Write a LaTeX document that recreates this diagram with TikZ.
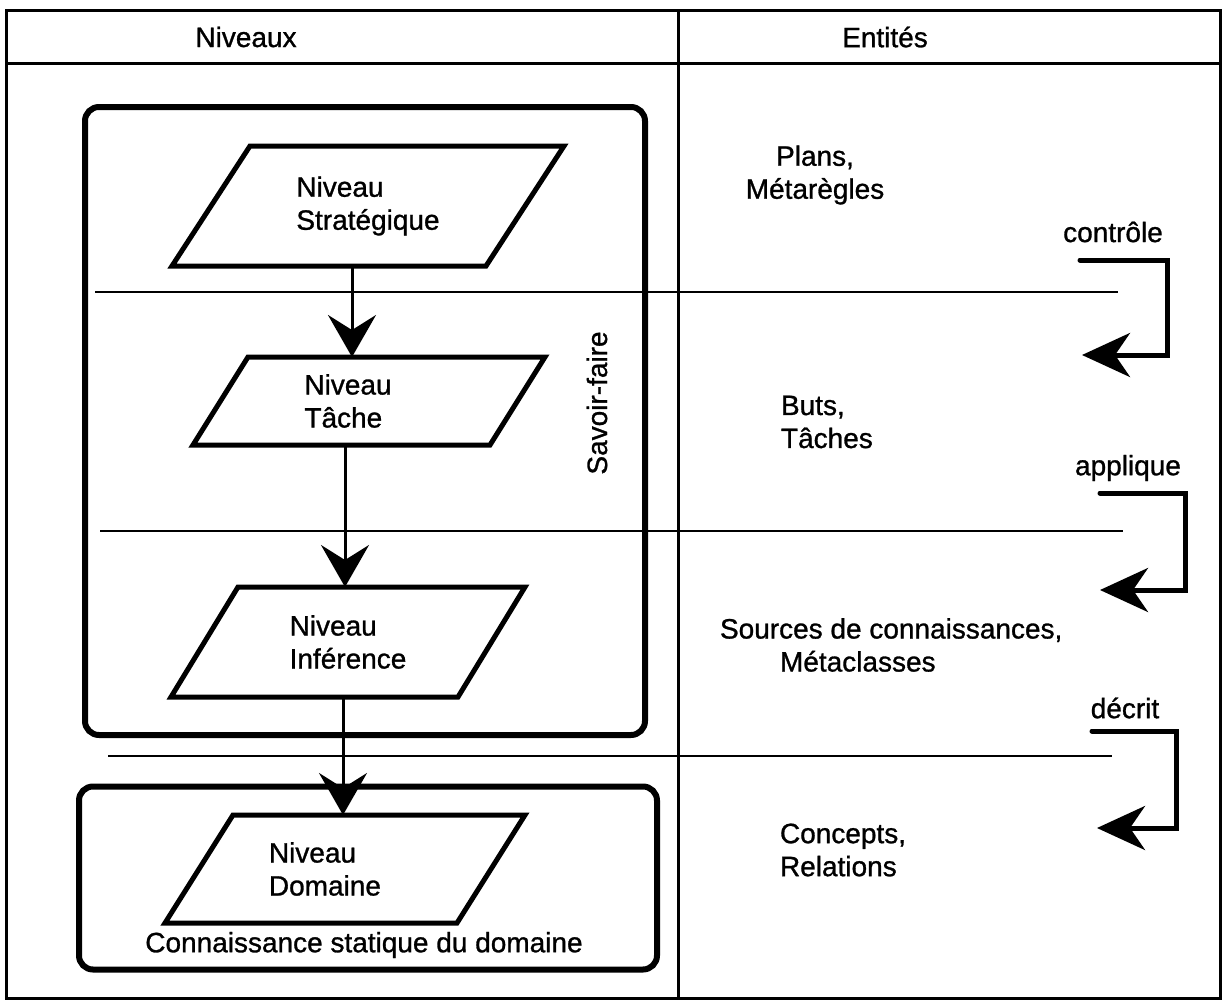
\documentclass[tikz,border=0pt]{standalone}
\usepackage{fontspec}
\setmainfont{Liberation Sans}[FakeBold=1]
\usetikzlibrary{arrows.meta}

\begin{document}
\begin{tikzpicture}[x=1pt, y=-1pt,
  every node/.style={font=\fontsize{28}{33}\selectfont, inner sep=0pt, outer sep=0pt},
  niveau/.style={align=left},
  para/.style={line width=5pt, line join=miter},
  bloc/.style={draw, rounded corners=14pt, line width=6pt},
  fleche/.style={line width=3pt, -{Stealth[length=42pt,width=48pt,inset=15pt]}},
  renvoi/.style={line width=5pt, line cap=round, -{Stealth[length=48pt,width=44pt,inset=15pt]}},
  trait/.style={line width=1.6pt},
  cadre/.style={line width=3pt}]
            \useasboundingbox (0,0) rectangle (1224,1001);
            % Cadre
            \draw[cadre] (6,10) rectangle (1220,998);
            \draw[cadre] (6,63) -- (1220,63);
            \draw[cadre] (678,10) -- (678,998);
            \node (N) at (246,37) {Niveaux};
            \node (E) at (885,37) {Entités};
            % Separations
            \draw[trait] (95,292) -- (1118,292);
            \draw[trait] (100,531) -- (1123,531);
            \draw[trait] (108,756) -- (1112,756);
            % Nodes
            \node[bloc, minimum width=560, minimum height=628] (SF) at (365,421) {};
            \node[bloc, minimum width=578, minimum height=183] (CS) at (368,878) {};
            \node[rotate=90] (SFt) at (597,403) {Savoir-faire};
            \node (CSt) at (364,945) {Connaissance statique du domaine};
            \node[niveau, minimum width=392, minimum height=120] (A) at (368,206) {Niveau\\Stratégique};
            \node[niveau, minimum width=352, minimum height=88] (B) at (369,401) {Niveau\hspace*{42pt}\\Tâche};
            \node[niveau, minimum width=354, minimum height=110] (C) at (348,642) {Niveau\\Inférence};
            \node[niveau, minimum width=360, minimum height=108] (D) at (345,869) {Niveau\hspace*{65pt}\\Domaine};
            \draw[para] ([xshift=78pt]A.north west) -- (A.north east) -- ([xshift=-78pt]A.south east) -- (A.south west) -- cycle;
            \draw[para] ([xshift=55pt]B.north west) -- (B.north east) -- ([xshift=-55pt]B.south east) -- (B.south west) -- cycle;
            \draw[para] ([xshift=67pt]C.north west) -- (C.north east) -- ([xshift=-67pt]C.south east) -- (C.south west) -- cycle;
            \draw[para] ([xshift=68pt]D.north west) -- (D.north east) -- ([xshift=-68pt]D.south east) -- (D.south west) -- cycle;
            \node[align=center] (P) at (815,175) {Plans,\\Métarègles};
            \node[align=left, anchor=west] (T) at (781,422) {Buts,\\Tâches};
            \node[align=left, anchor=west] (S) at (720,645) {Sources de connaissances,\\\hspace*{60pt}Métaclasses};
            \node[align=left, anchor=west] (R) at (780,850) {Concepts,\\Relations};
            \node (c1) at (1113,232) {contrôle};
            \node (c2) at (1128,468) {applique};
            \node (c3) at (1125,708) {décrit};
            % Arcs
            \coordinate (x1) at (352,0);
            \coordinate (x2) at (345,0);
            \coordinate (x3) at (343,0);
            \draw[fleche] (A.south -| x1) -- (B.north -| x1);
            \draw[fleche] (B.south -| x2) -- (C.north -| x2);
            \draw[fleche] (C.south -| x3) -- (D.north -| x3);
            \coordinate (r1a) at (1080,260);
            \coordinate (r1b) at (1167,355);
            \coordinate (r1c) at (1082,355);
            \coordinate (r2a) at (1100,493);
            \coordinate (r2b) at (1185,590);
            \coordinate (r2c) at (1100,590);
            \coordinate (r3a) at (1092,731);
            \coordinate (r3b) at (1176,828);
            \coordinate (r3c) at (1097,828);
            \draw[renvoi] (r1a) -| (r1b) -- (r1c);
            \draw[renvoi] (r2a) -| (r2b) -- (r2c);
            \draw[renvoi] (r3a) -| (r3b) -- (r3c);
        \end{tikzpicture}
\end{document}
